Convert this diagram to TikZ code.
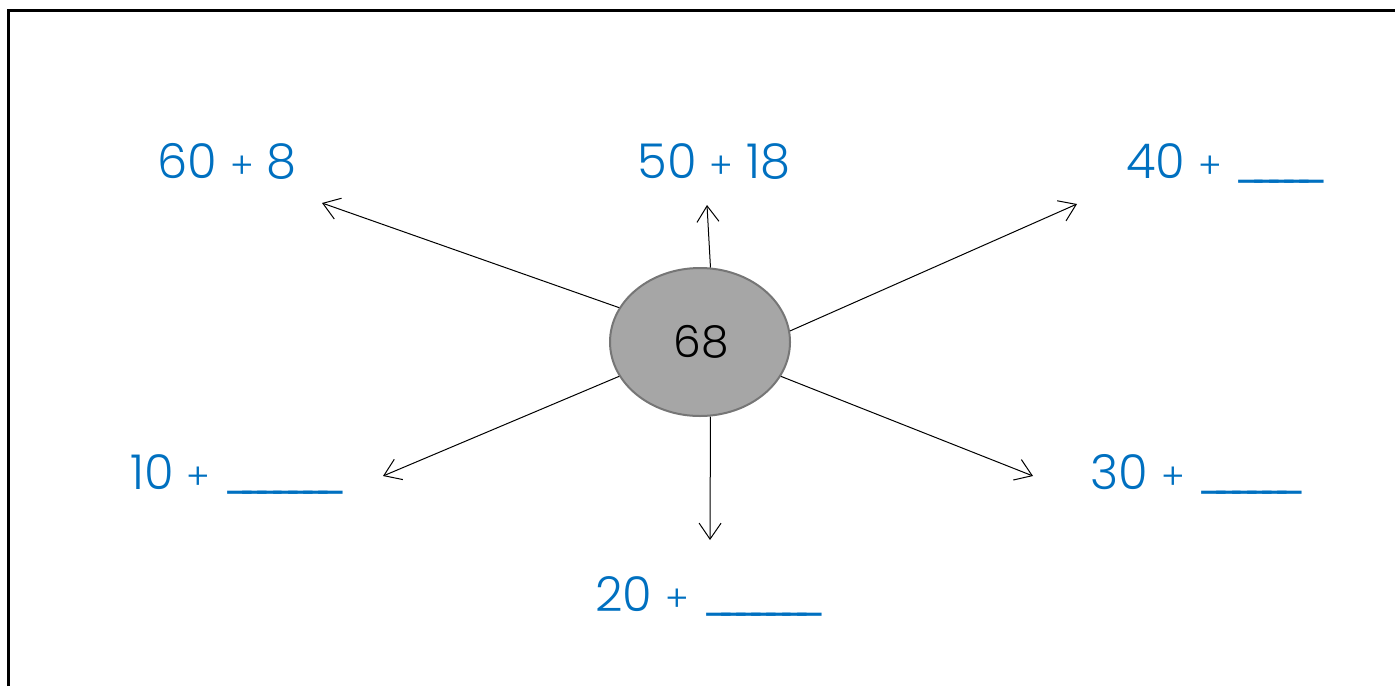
\documentclass[tikz,border=0pt]{standalone}
\usepackage{fontspec}
\setmainfont{Poppins Light}
\usetikzlibrary{arrows.meta,shapes.geometric}
\definecolor{numblue}{RGB}{0,112,192}
\definecolor{ovalgray}{RGB}{166,166,166}
\definecolor{ovalline}{RGB}{118,118,118}
\newcommand{\pl}{\hspace{6.5pt}{\fontsize{18}{18}\selectfont +}\hspace{6.5pt}}
\newcommand{\us}{\makebox[7.6pt][l]{\_}}

\begin{document}
\begin{tikzpicture}[x=0.5pt,y=-0.5pt,
    sum/.style={anchor=base west, inner sep=0pt, text=numblue, font=\fontsize{24}{24}\selectfont},
    spoke/.style={-{Straight Barb[length=8pt,width=11pt]}, line width=0.5pt}]
  \useasboundingbox (0,0) rectangle (1395,686);
  % frame
  \draw [line width=1.5pt] (8,686) -- (8,10) -- (1395,10);
  % centre
  \node (c) [ellipse, draw=ovalline, fill=ovalgray, line width=1pt, minimum width=90pt, minimum height=74pt, inner sep=0pt,
    font=\fontsize{22}{22}\selectfont] at (700,342) {\raisebox{-1.5pt}{\hspace{1.5pt}68}};
  % sums
  \node (s1) [sum] at (157,178) {60\pl8};
  \node (s2) [sum] at (637,178) {50\pl18};
  \node (s3) [sum] at (1126,178) {40\pl\us\us\us\us\us};
  \node (s4) [sum] at (130,489) {10\pl\us\us\us\us\us\us\us};
  \node (s5) [sum] at (1090,489) {30\pl\us\us\us\us\us\us};
  \node (s6) [sum] at (595,611) {20\pl\us\us\us\us\us\us\us};
  % arrow tips
  \coordinate (t1) at (322,203);
  \coordinate (t2) at (707,205);
  \coordinate (t3) at (1077,204);
  \coordinate (t4) at (383,476);
  \coordinate (t5) at (1033,476);
  \coordinate (t6) at (710,540);
  \draw [spoke] (c.157) -- (t1);
  \draw [spoke] (c.82) -- (t2);
  \draw [spoke] (c.7) -- (t3);
  \draw [spoke] (c.203) -- (t4);
  \draw [spoke] (c.337) -- (t5);
  \draw [spoke] (c.278) -- (t6);
\end{tikzpicture}
\end{document}
